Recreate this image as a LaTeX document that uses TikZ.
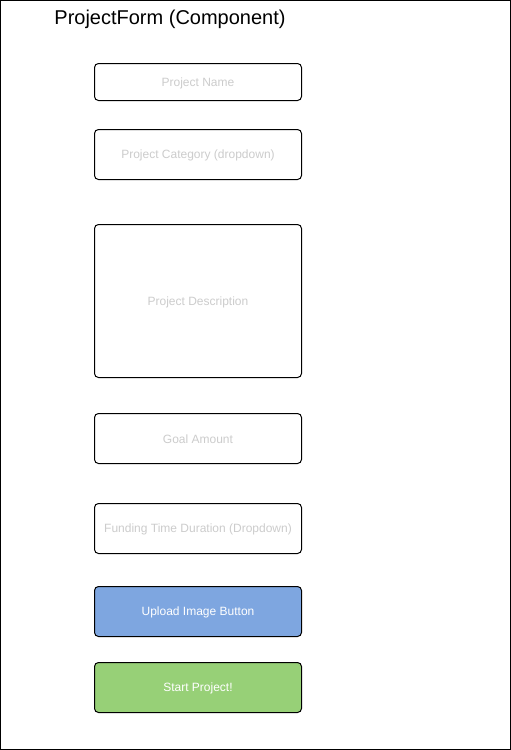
\documentclass[tikz,border=0pt]{standalone}
\usepackage{fontspec}
\setmainfont{Liberation Sans}
\definecolor{hint}{HTML}{CCCCCC}
\definecolor{uploadblue}{HTML}{7EA6E0}
\definecolor{startgreen}{HTML}{97D077}
\begin{document}
\begin{tikzpicture}[x=1pt,y=-1pt,
  field/.style={draw=black, line width=1pt, rounded corners=4pt, fill=white},
  hinttext/.style={text=hint, font=\fontsize{12}{14}\selectfont},
  btntext/.style={text=white, font=\fontsize{12}{14}\selectfont}]
\useasboundingbox (0,0) rectangle (511,750);
\draw[line width=1pt] (0.5,0.5) rectangle (510.3,749.3);
\node[font=\fontsize{20}{24}\selectfont, anchor=center] (title) at (170,19) {ProjectForm (Component)};
% fields
\draw[field] (94.5,63.5) rectangle (301.5,100.5);
\node[hinttext] (name) at (198,83) {Project Name};
\draw[field] (94.5,129.5) rectangle (301.5,179.5);
\node[hinttext] (cat) at (198,155.5) {Project Category (dropdown)};
\draw[field] (94.5,224.5) rectangle (301.5,377.5);
\node[hinttext] (desc) at (198,302) {Project Description};
\draw[field] (94.5,413.5) rectangle (301.5,463.5);
\node[hinttext] (goal) at (198,439) {Goal Amount};
\draw[field] (94.5,503.5) rectangle (301.5,553.5);
\node[hinttext] (fund) at (198,529.5) {Funding Time Duration (Dropdown)};
% buttons
\draw[field, fill=uploadblue] (94.5,586.5) rectangle (301.5,636.5);
\node[btntext] (upload) at (198,612.5) {Upload Image Button};
\draw[field, fill=startgreen] (94.5,662.5) rectangle (301.5,712.5);
\node[btntext] (start) at (198,688.5) {Start Project!};
\end{tikzpicture}
\end{document}
